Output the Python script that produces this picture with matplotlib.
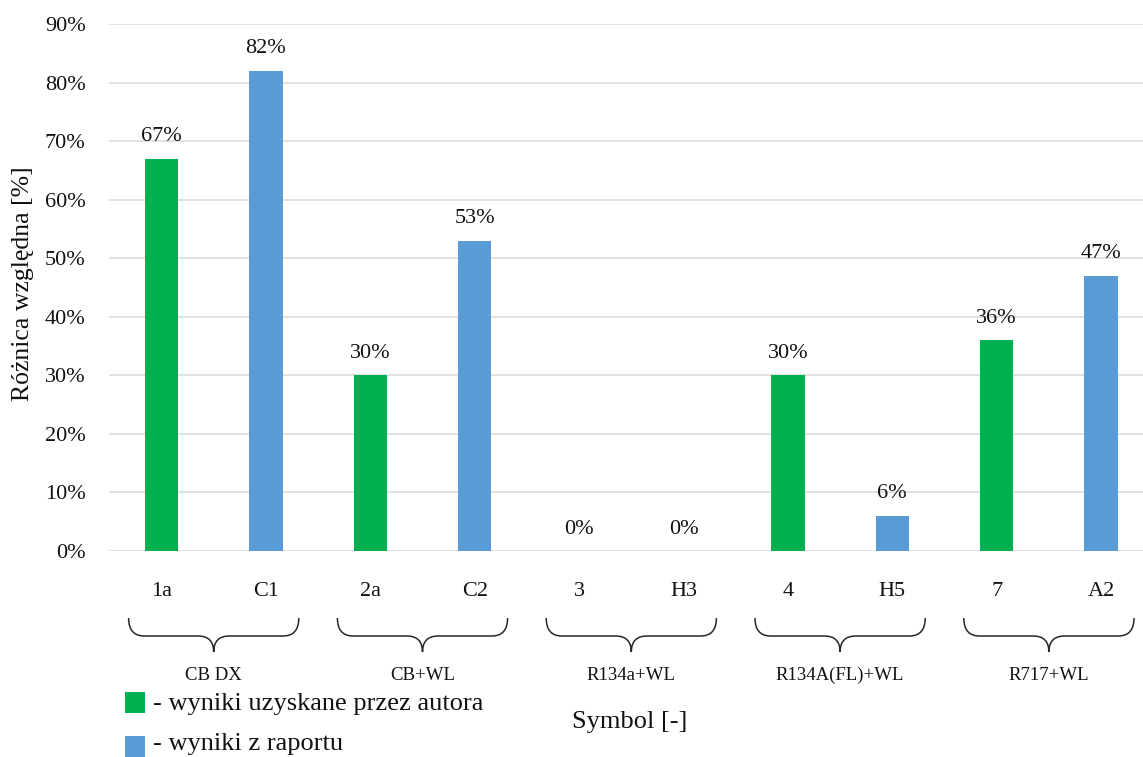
import matplotlib
matplotlib.use("Agg")
import matplotlib.pyplot as plt
import numpy as np
from matplotlib.path import Path
from matplotlib.patches import PathPatch, Rectangle
from matplotlib.transforms import blended_transform_factory
from matplotlib.ticker import PercentFormatter

plt.rcParams['font.family'] = ['Liberation Serif', 'DejaVu Serif']

# Data
symbols = ["1a", "C1", "2a", "C2", "3", "H3", "4", "H5", "7", "A2"]
values = [67, 82, 30, 53, 0, 0, 30, 6, 36, 47]          # relative difference [%]
source = ["autor", "raport"] * 5                         # which series each bar belongs to
groups = ["CB DX", "CB+WL", "R134a+WL", "R134A(FL)+WL", "R717+WL"]
series_labels = {"autor": "- wyniki uzyskane przez autora",
                 "raport": "- wyniki z raportu"}
series_colors = {"autor": "#00B050", "raport": "#5B9BD5"}
y_ticks = np.arange(0, 91, 10)

W, H = 1143, 757
TXT = "#111111"
fig = plt.figure(figsize=(W / 100, H / 100), dpi=100)
ax = fig.add_axes([109.3 / W, 1 - 551 / H, 1044 / W, (551 - 24) / H])

x = np.arange(len(symbols))
colors = [series_colors[s] for s in source]
ax.bar(x, values, width=0.32, color=colors, zorder=3)

for xi, v in zip(x, values):
    ax.annotate(f"{v:.0f}%", (xi, v), xytext=(0, 9), textcoords="offset points",
                ha="center", va="bottom", fontsize=16, color=TXT)

ax.set_xlim(-0.5, len(symbols) - 0.5)
ax.set_ylim(0, 90)
ax.set_yticks(y_ticks)
ax.yaxis.set_major_formatter(PercentFormatter(decimals=0))
ax.set_xticks(x)
ax.set_xticklabels(symbols)
ax.tick_params(axis="both", length=0, labelsize=16, colors=TXT)
ax.tick_params(axis="y", pad=17)
ax.tick_params(axis="x", pad=22)
ax.grid(axis="y", color="#D9D9D9", linewidth=1.1, zorder=0)
for sp in ax.spines.values():
    sp.set_visible(False)

fig.text(23 / W, 1 - 284 / H, "Różnica względna [%]", rotation=90,
         ha="center", va="center", fontsize=18.5, color=TXT)

# Curly braces grouping each pair of symbols
trans = blended_transform_factory(ax.transData, fig.transFigure)
y_top = 1 - 618 / H
y_mid = 1 - 636 / H
y_tip = 1 - 652 / H
half = 0.815
r = 0.15
for gi, name in enumerate(groups):
    xm = 2 * gi + 0.5
    x0, x1 = xm - half, xm + half
    verts = [(x0, y_top), (x0, y_mid), (x0 + r, y_mid),
             (xm - r, y_mid), (xm, y_mid), (xm, y_tip),
             (xm, y_mid), (xm + r, y_mid),
             (x1 - r, y_mid), (x1, y_mid), (x1, y_top)]
    codes = [Path.MOVETO, Path.CURVE3, Path.CURVE3,
             Path.LINETO, Path.CURVE3, Path.CURVE3,
             Path.CURVE3, Path.CURVE3,
             Path.LINETO, Path.CURVE3, Path.CURVE3]
    fig.add_artist(PathPatch(Path(verts, codes), transform=trans, fill=False,
                             edgecolor="#262626", linewidth=1.1, clip_on=False))
    fig.add_artist(plt.Text(xm, 1 - 680 / H, name, transform=trans,
                            ha="center", va="baseline", fontsize=13.5,
                            color=TXT))

fig.text(630 / W, 1 - 728 / H, "Symbol [-]", ha="center", va="baseline",
         fontsize=19, color=TXT)

# Legend drawn as colored squares with descriptive text
leg = [("autor", 692, 710), ("raport", 736, 750)]
for key, sq_top, base in leg:
    fig.add_artist(Rectangle((125 / W, 1 - (sq_top + 21) / H), 20 / W, 21 / H,
                             transform=fig.transFigure,
                             facecolor=series_colors[key], edgecolor="none"))
    fig.text(153 / W, 1 - base / H, series_labels[key], ha="left",
             va="baseline", fontsize=19, color=TXT)

fig.savefig("out.png", dpi=100)
